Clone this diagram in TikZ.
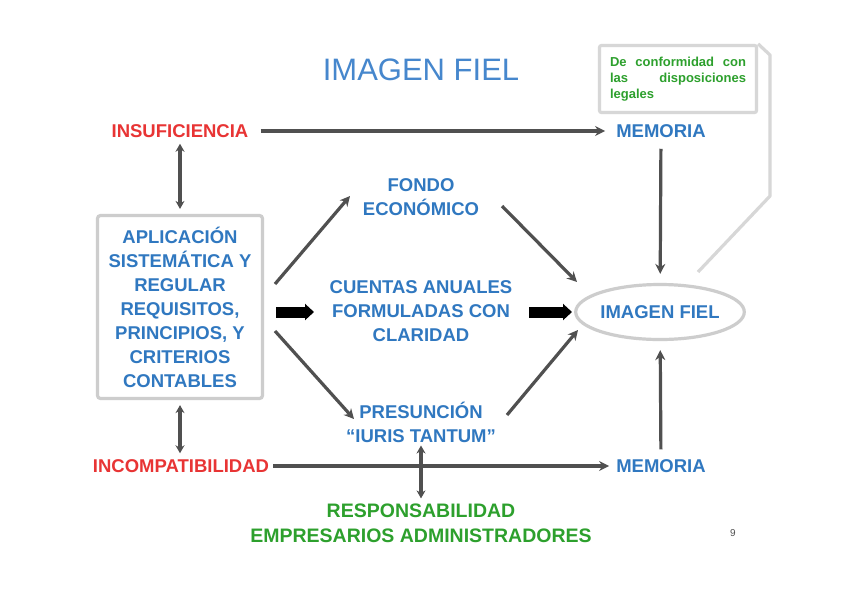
\documentclass[tikz,border=0pt]{standalone}
\usepackage{fontspec}
\setmainfont{Liberation Sans}
\usetikzlibrary{arrows.meta,shapes.geometric,calc}
\definecolor{tred}{RGB}{232,52,52}
\definecolor{tblue}{RGB}{48,120,192}
\definecolor{ttitle}{RGB}{70,135,205}
\definecolor{tgreen}{RGB}{45,160,45}
\definecolor{tline}{RGB}{80,80,80}
\definecolor{tframe}{RGB}{205,205,205}
\begin{document}
\begin{tikzpicture}[x=1pt,y=-1pt,
  lbl/.style={font=\bfseries\fontsize{18.5}{24}\selectfont, align=center, inner sep=2pt},
  redlbl/.style={lbl, text=tred},
  bluelbl/.style={lbl, text=tblue},
  greenlbl/.style={lbl, text=tgreen, font=\bfseries\fontsize{19.5}{25}\selectfont},
  conn/.style={draw=tline, line width=3.2pt, -{Stealth[length=10pt,width=10pt]}},
  dconn/.style={draw=tline, line width=3.2pt, {Stealth[length=8pt,width=9pt]}-{Stealth[length=8pt,width=9pt]}},
  blockarr/.style={draw=black, line width=11pt, -{Triangle[length=9pt,width=16pt]}},
  frame/.style={draw=tframe, line width=3.2pt}
]
\useasboundingbox (0,0) rectangle (842,595);
\fill[white] (0,0) rectangle (842,595);

\node[text=ttitle, font=\fontsize{31}{36}\selectfont] (title) at (421,70) {IMAGEN FIEL};

\node[redlbl] (ins) at (180,131) {INSUFICIENCIA};
\node[redlbl] (inc) at (181,466) {INCOMPATIBILIDAD};
\node[bluelbl] (mem1) at (661,131) {MEMORIA};
\node[bluelbl] (mem2) at (661,466) {MEMORIA};

\node[bluelbl, frame, rounded corners=3pt, minimum width=165pt, minimum height=183pt] (box) at (180,307)
  {APLICACIÓN\\SISTEMÁTICA Y\\REGULAR\\REQUISITOS,\\PRINCIPIOS, Y\\CRITERIOS\\CONTABLES};

\node[bluelbl] (fondo) at (421,197) {FONDO\\ECONÓMICO};
\node[bluelbl] (cuentas) at (421,311) {CUENTAS ANUALES\\FORMULADAS CON\\CLARIDAD};
\node[bluelbl] (pres) at (421,422) {PRESUNCIÓN\\“IURIS TANTUM”};
\node[greenlbl] (resp) at (421,523) {RESPONSABILIDAD\\EMPRESARIOS ADMINISTRADORES};

\node[bluelbl, frame, ellipse, minimum width=150pt, minimum height=55pt, inner sep=0pt] (img) at (660,312) {IMAGEN FIEL};

\node[frame, draw=tframe!80, rounded corners=2pt, minimum width=157pt, minimum height=67pt, text width=136pt,
  align=justify, text=tgreen, font=\bfseries\fontsize{13}{16}\selectfont] (call) at (678,79)
  {\hyphenpenalty=10000 De conformidad con\linebreak las disposiciones\linebreak legales};
\coordinate (c1) at (770,55);
\coordinate (c2) at (770,196);
\coordinate (c3) at (698,272);
\draw[frame, draw=tframe!80, line join=round] (call.north east) -- (c1) -- (c2) -- (c3);

\node[text=tline, font=\fontsize{10}{12}\selectfont] (num) at (733,533) {9};

% horizontal connectors
\draw[conn, shorten <=10pt, shorten >=9pt] (ins) -- (mem1);
\draw[conn, shorten <=2pt, shorten >=5pt] (inc) -- (mem2);
% vertical double arrows
\draw[dconn, shorten <=4pt, shorten >=5pt] (ins.south -| box.north) -- (box.north);
\draw[dconn, shorten <=5pt, shorten >=4pt] (box.south) -- (inc.north -| box.south);
\draw[dconn, shorten <=1pt, shorten >=3pt] (pres.south) -- (resp.north);
% memoria to imagen fiel
\draw[conn, shorten <=9pt, shorten >=9pt] (mem1) -- (img);
\draw[conn, shorten <=8pt, shorten >=9pt] (mem2) -- (img);

% diagonals
\coordinate (d1s) at (275,284);
\coordinate (d1e) at (350,196);
\coordinate (d2s) at (275,331);
\coordinate (d2e) at (354,419);
\coordinate (d3s) at (502,206);
\coordinate (d3e) at (577,282);
\coordinate (d4s) at (507,415);
\coordinate (d4e) at (578,330);
\draw[conn] (d1s) -- (d1e);
\draw[conn] (d2s) -- (d2e);
\draw[conn] (d3s) -- (d3e);
\draw[conn] (d4s) -- (d4e);

% block arrows
\coordinate (b1s) at (276,312);
\coordinate (b1e) at (314,312);
\coordinate (b2s) at (529,312);
\coordinate (b2e) at (572,312);
\draw[blockarr] (b1s) -- (b1e);
\draw[blockarr] (b2s) -- (b2e);
\end{tikzpicture}
\end{document}
